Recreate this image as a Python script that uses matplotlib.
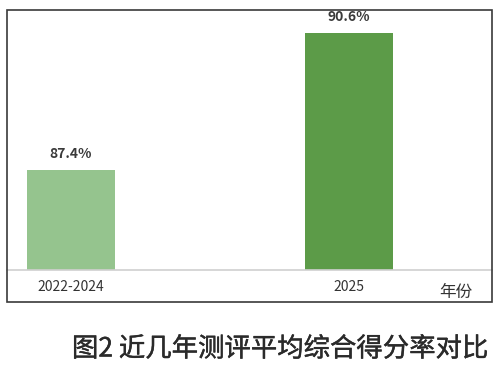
import matplotlib
matplotlib.use('Agg')
import matplotlib.pyplot as plt
import matplotlib.patheffects as pe
from matplotlib.patches import Rectangle

plt.rcParams['font.family'] = ['Noto Sans CJK SC', 'DejaVu Sans']

# datos
categorias = ['2022-2024', '2025']
valores = [87.4, 90.6]
etiquetas = ['87.4%', '90.6%']
colores = ['#95c48e', '#5c9b48']
titulo = '图2 近几年测评平均综合得分率对比'

W, H = 500, 370
fig = plt.figure(figsize=(5, 3.7), dpi=100)

# marco exterior
fig.patches.append(Rectangle((7 / W, 1 - 302 / H), 485 / W, 292 / H,
                             transform=fig.transFigure, fill=False,
                             edgecolor='#3a3a3a', linewidth=1.2))

ax = fig.add_axes([7 / W, 1 - 270 / H, 485 / W, 260 / H])
x = list(range(len(categorias)))
ax.bar(x, valores, width=0.3165, color=colores, bottom=0)
ax.set_ylim(85.06, 91.14)
ax.set_xlim(-0.2302, 1.514)

for xi, v, t in zip(x, valores, etiquetas):
    ax.text(xi, v + 0.22, t, ha='center', va='bottom', fontsize=10,
            fontweight='bold', color='#3a3a3a')

for s in ['top', 'left', 'right']:
    ax.spines[s].set_visible(False)
ax.spines['bottom'].set_color('#d0d0d0')
ax.spines['bottom'].set_linewidth(1.2)
ax.set_yticks([])
ax.set_xticks(x)
ax.set_xticklabels(categorias, fontsize=10, color='#333333')
ax.tick_params(axis='x', length=0, pad=7)

fig.text(456 / W, 1 - 292 / H, '年份', ha='center', va='center',
         fontsize=12, color='#333333')

fig.text(280 / W, 1 - 349 / H, titulo, ha='center', va='center',
         fontsize=19, color='#2a2a2a',
         path_effects=[pe.withStroke(linewidth=0.3, foreground='#2a2a2a')])

fig.savefig('out.png', dpi=100)
